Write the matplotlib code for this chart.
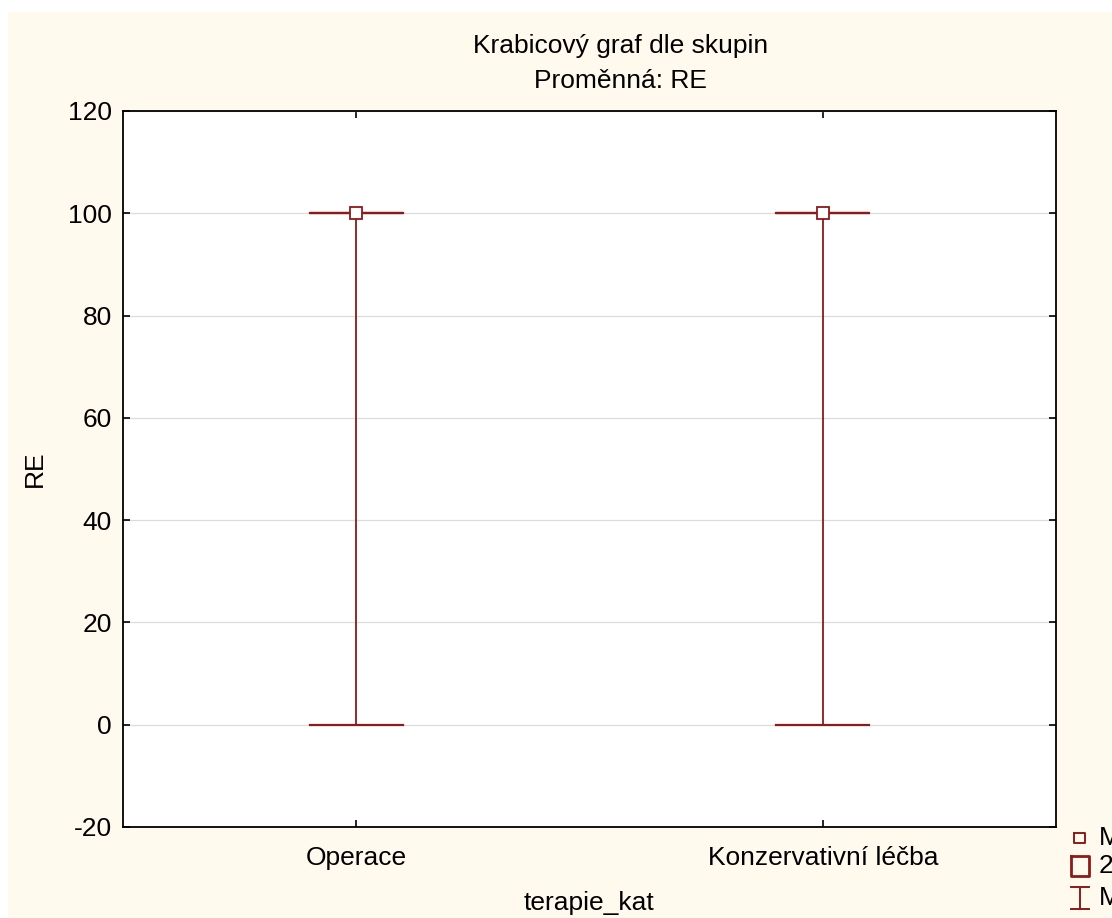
import matplotlib.pyplot as plt
from matplotlib.patches import Rectangle
from matplotlib.lines import Line2D

plt.rcParams['font.family'] = ['Liberation Sans', 'DejaVu Sans']
plt.rcParams['axes.unicode_minus'] = False

# souhrnné statistiky pro obě skupiny
skupiny = ['Operace', 'Konzervativní léčba']
median = [100, 100]
q25 = [100, 100]
q75 = [100, 100]
minimum = [0, 0]
maximum = [100, 100]

barva = '#8B1A1A'
pozadi = '#FFF9EE'
W, H = 1112, 918
fs = 19

fig = plt.figure(figsize=(W / 100, H / 100), dpi=100)
fig.patch.set_facecolor('white')
fig.patches.append(Rectangle((8 / W, 0), 1, 1 - 12 / H, transform=fig.transFigure,
                             facecolor=pozadi, edgecolor='none', zorder=-5))

ax = fig.add_axes([123 / W, 1 - 827 / H, 933 / W, 716 / H])
ax.set_facecolor('white')

x = [1, 2]
sirka = 0.1
for xi, med, a, b, lo, hi in zip(x, median, q25, q75, minimum, maximum):
    # whisker min-max
    ax.plot([xi, xi], [lo, hi], color=barva, lw=1.3, zorder=3)
    ax.plot([xi - sirka, xi + sirka], [lo, lo], color=barva, lw=1.6, zorder=3)
    ax.plot([xi - sirka, xi + sirka], [hi, hi], color=barva, lw=1.6, zorder=3)
    # krabice 25%-75%
    ax.add_patch(Rectangle((xi - sirka, a), 2 * sirka, b - a, fill=False,
                           edgecolor=barva, lw=1.6, zorder=3))
    # medián
    ax.plot(xi, med, marker='s', ms=8, mfc='white', mec=barva, mew=1.3, zorder=4)

ax.set_xlim(0.5, 2.5)
ax.set_ylim(-20, 120)
ax.set_yticks(range(-20, 121, 20))
ax.set_xticks(x)
ax.set_xticklabels(skupiny)
ax.grid(axis='y', color='#DCDCDC', lw=0.9)
ax.set_axisbelow(True)
ax.tick_params(direction='in', length=5, width=1.2, labelsize=fs,
               top=True, right=True)
ax.tick_params(axis='y', pad=8)
ax.tick_params(axis='x', pad=14)
for s in ax.spines.values():
    s.set_linewidth(1.3)

ax.set_xlabel('terapie_kat', fontsize=fs, labelpad=15)
ax.set_ylabel('RE', fontsize=fs, labelpad=15)


def px(xp, yp):
    return xp / W, 1 - yp / H


fig.text(*px(621, 53), 'Krabicový graf dle skupin', ha='center', va='baseline', fontsize=fs)
fig.text(*px(621, 88), 'Proměnná: RE', ha='center', va='baseline', fontsize=fs)

# legenda vpravo dole
tf = fig.transFigure
fig.lines.append(Line2D(*zip(px(1074, 833), px(1085, 833), px(1085, 843), px(1074, 843), px(1074, 833)),
                        transform=tf, color=barva, lw=1.4))
fig.lines.append(Line2D(*zip(px(1071, 856), px(1089, 856), px(1089, 876), px(1071, 876), px(1071, 856)),
                        transform=tf, color=barva, lw=2.0))
fig.lines.append(Line2D(*zip(px(1071, 887), px(1089, 887)), transform=tf, color=barva, lw=1.4))
fig.lines.append(Line2D(*zip(px(1080, 887), px(1080, 909)), transform=tf, color=barva, lw=1.4))
fig.lines.append(Line2D(*zip(px(1071, 909), px(1089, 909)), transform=tf, color=barva, lw=1.4))
for txt, yp in [('Medián', 838), ('25%-75%', 866), ('Min-Max', 898)]:
    fig.text(*px(1099, yp), txt, ha='left', va='center', fontsize=fs)

fig.savefig('out.png', dpi=100)
